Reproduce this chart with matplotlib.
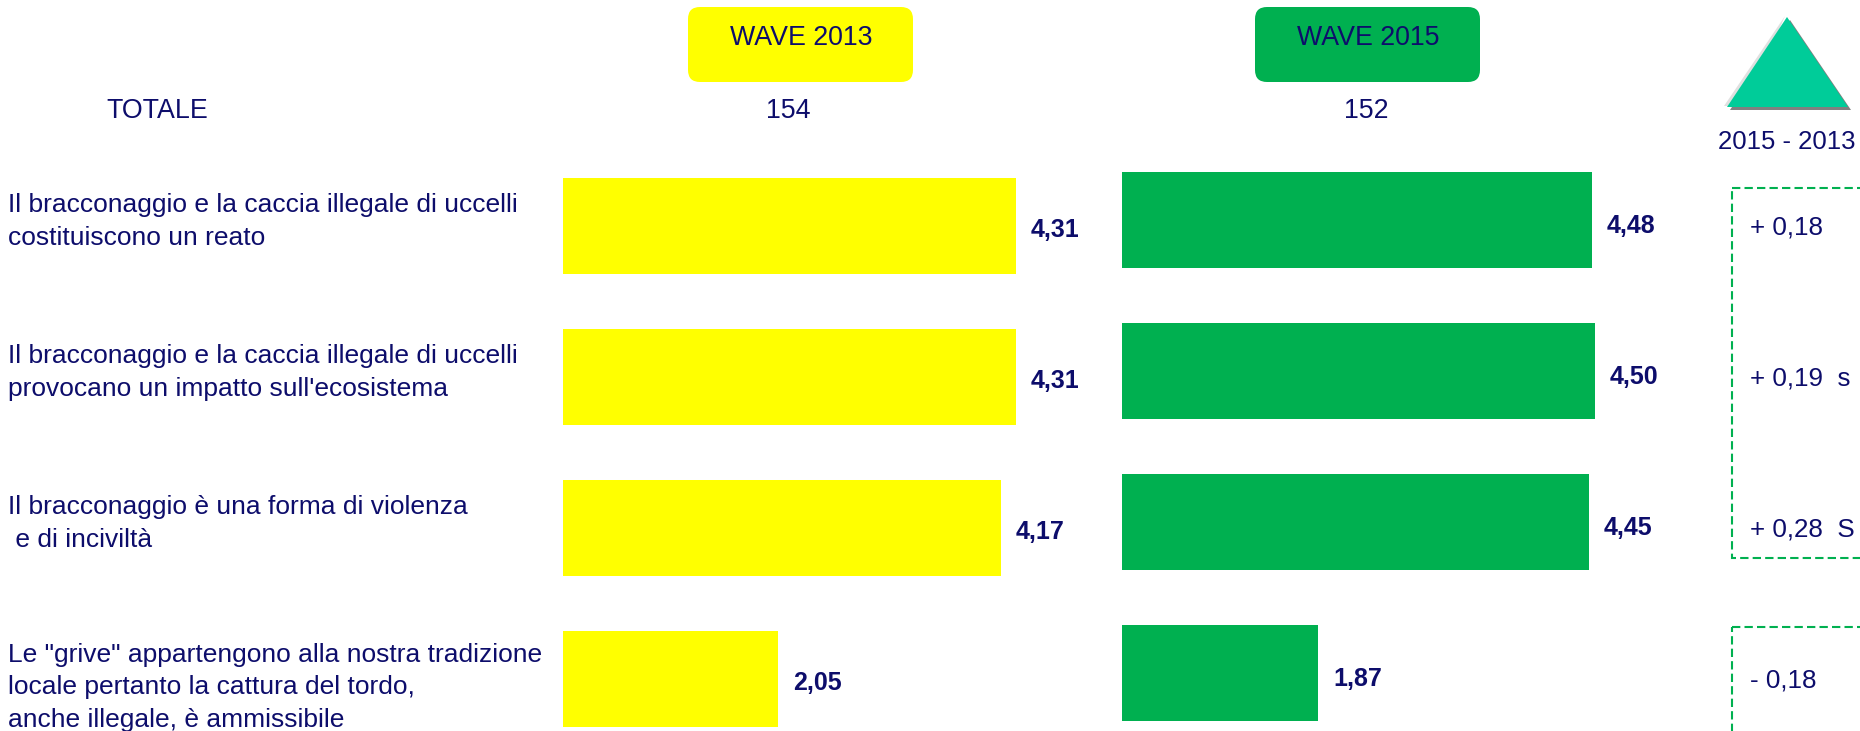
import matplotlib
matplotlib.use('Agg')
import matplotlib.pyplot as plt
import matplotlib.transforms as mtransforms
from matplotlib.patches import FancyBboxPatch, Polygon, Rectangle

# data
statements = [
    "Il bracconaggio e la caccia illegale di uccelli\ncostituiscono un reato",
    "Il bracconaggio e la caccia illegale di uccelli\nprovocano un impatto sull'ecosistema",
    "Il bracconaggio è una forma di violenza\n e di inciviltà",
    "Le \"grive\" appartengono alla nostra tradizione\nlocale pertanto la cattura del tordo,\nanche illegale, è ammissibile",
]
wave_2013 = [4.31, 4.31, 4.17, 2.05]
wave_2015 = [4.48, 4.50, 4.45, 1.87]
base_2013 = 154
base_2015 = 152
delta_labels = ["+ 0,18", "+ 0,19  s", "+ 0,28  S", "- 0,18"]

W, H = 1860, 731
NAVY = '#0D0D6B'
YELLOW = '#FFFF00'
GREEN = '#00B050'
TRI = '#00CC99'

plt.rcParams['font.family'] = ['Liberation Sans', 'DejaVu Sans']

fig = plt.figure(figsize=(W / 100, H / 100), dpi=100)


def frac(x0, y0, x1, y1):
    # pixel box with top-left origin -> figure rect
    return [x0 / W, 1 - y1 / H, (x1 - x0) / W, (y1 - y0) / H]


def fmt(v):
    return f"{v:.2f}".replace('.', ',')


cats = list(range(len(statements)))

# wave 2013 bars
ax13 = fig.add_axes(frac(563, 150, 563 + 105 * 5, H))
ax13.barh(cats, wave_2013, height=0.635, color=YELLOW)
ax13.set_xlim(0, 5)
ax13.set_ylim(3.344, -0.503)
ax13.axis('off')
for i, v in enumerate(wave_2013):
    ax13.text(v + 0.14, i + 0.025, fmt(v), ha='left', va='center',
              fontsize=18, fontweight='bold', color=NAVY, clip_on=False)

# wave 2015 bars
ax15 = fig.add_axes(frac(1122, 150, 1122 + 105 * 5, H))
ax15.barh(cats, wave_2015, height=0.63, color=GREEN)
ax15.set_xlim(0, 5)
ax15.set_ylim(3.384, -0.4636)
ax15.axis('off')
for i, v in enumerate(wave_2015):
    ax15.text(v + 0.14, i + 0.04, fmt(v), ha='left', va='center',
              fontsize=18, fontweight='bold', color=NAVY, clip_on=False)

# overlay in pixel coords for headers, labels and decorations
ov = fig.add_axes([0, 0, 1, 1], zorder=5)
ov.set_xlim(0, W)
ov.set_ylim(H, 0)
ov.axis('off')
ov.patch.set_alpha(0)

blend = mtransforms.blended_transform_factory(ov.transData, ax13.transData)
for i, s in enumerate(statements):
    nudge = 0.085 if s.count('\n') == 2 else 0
    ov.text(8, i - 0.03 + nudge, s, transform=blend, ha='left', va='center',
            fontsize=19, color=NAVY, linespacing=1.45)
for i, s in enumerate(delta_labels):
    ov.text(1750, i + 0.01, s, transform=blend, ha='left', va='center',
            fontsize=18.7, color=NAVY)

ov.add_patch(FancyBboxPatch((688, 7), 225, 75, boxstyle="round,pad=0,rounding_size=12",
                            fc=YELLOW, ec='none'))
ov.add_patch(FancyBboxPatch((1255, 7), 225, 75, boxstyle="round,pad=0,rounding_size=12",
                            fc=GREEN, ec='none'))
ov.text(801, 38, "WAVE 2013", ha='center', va='center', fontsize=19.3, color=NAVY)
ov.text(1368, 38, "WAVE 2015", ha='center', va='center', fontsize=19.3, color=NAVY)
ov.text(157, 111, "TOTALE", ha='center', va='center', fontsize=19.3, color=NAVY)
ov.text(788, 111, str(base_2013), ha='center', va='center', fontsize=19.3, color=NAVY)
ov.text(1366, 111, str(base_2015), ha='center', va='center', fontsize=19.3, color=NAVY)

# triangle with shadow
ov.add_patch(Polygon([(1790, 20), (1730, 110), (1851, 110)], closed=True, fc='#808080', ec='none'))
ov.add_patch(Polygon([(1785, 16), (1724, 106), (1746, 106)], closed=True, fc='#E0E0E0', ec='none'))
ov.add_patch(Polygon([(1787, 17), (1727, 107), (1848, 107)], closed=True, fc=TRI, ec='none'))
ov.text(1787, 142, "2015 - 2013", ha='center', va='center', fontsize=18.5, color=NAVY)

ov.add_patch(Rectangle((1732, 188), 200, 370, fill=False, ec=GREEN, lw=1.5, ls=(0, (4, 2))))
ov.add_patch(Rectangle((1732, 627), 200, 200, fill=False, ec=GREEN, lw=1.5, ls=(0, (4, 2))))

fig.savefig('out.png', dpi=100, facecolor='white')
